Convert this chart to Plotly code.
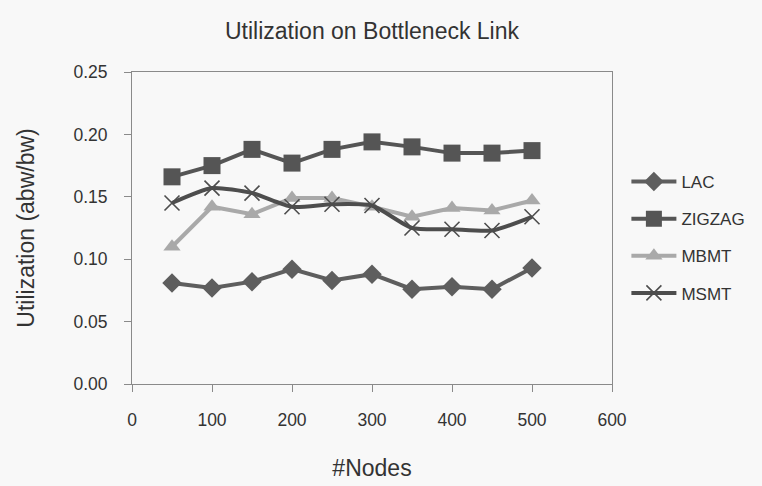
import plotly.graph_objects as go

# Number of nodes in the simulated topology
nodes = [50, 100, 150, 200, 250, 300, 350, 400, 450, 500]

# Utilization (available bandwidth / bandwidth) for each scheme
lac = [0.081, 0.077, 0.082, 0.092, 0.083, 0.088, 0.076, 0.078, 0.076, 0.093]
zigzag = [0.166, 0.175, 0.188, 0.177, 0.188, 0.194, 0.190, 0.185, 0.185, 0.187]
mbmt = [0.110, 0.142, 0.136, 0.149, 0.149, 0.142, 0.134, 0.141, 0.139, 0.147]
msmt = [0.145, 0.157, 0.153, 0.142, 0.144, 0.143, 0.125, 0.124, 0.123, 0.134]

x_ticks = [0, 100, 200, 300, 400, 500, 600]
y_ticks = [0.00, 0.05, 0.10, 0.15, 0.20, 0.25]

FONT = "Liberation Sans, Arial, sans-serif"
BG = "#f8f8f8"

series = [
    ("LAC", lac, "#5e5e5e", dict(symbol="diamond", size=15), "linear"),
    ("ZIGZAG", zigzag, "#555555", dict(symbol="square", size=17), "linear"),
    ("MBMT", mbmt, "#a9a9a9", dict(symbol="triangle-up", size=15), "linear"),
    ("MSMT", msmt, "#4d4d4d", dict(symbol="x-thin", size=15,
                                   line=dict(width=1.6, color="#4d4d4d")), "spline"),
]

fig = go.Figure()
for name, vals, color, marker, shape in series:
    m = dict(color=color, **marker)
    if "line" not in m:
        m["line"] = dict(width=0)
    fig.add_trace(go.Scatter(
        x=nodes, y=vals, name=name, mode="lines+markers",
        line=dict(color=color, width=4, shape=shape, smoothing=0.6),
        marker=m, legendgroup=name,
    ))

axis_common = dict(
    showline=True, mirror=True, linecolor="#8a8a8a", linewidth=1,
    ticks="outside", ticklen=7, tickcolor="#8a8a8a", showgrid=False,
    zeroline=False, tickfont=dict(family=FONT, size=17.5, color="#333333"),
    ticklabelstandoff=13, automargin=False,
)

fig.update_layout(
    width=762, height=486,
    paper_bgcolor=BG, plot_bgcolor=BG,
    margin=dict(l=132, r=147, t=72, b=102),
    title=dict(text="Utilization on Bottleneck Link", x=0.5, xref="paper",
               y=0.936, yanchor="middle",
               font=dict(family=FONT, size=23, color="#333333")),
    xaxis=dict(range=[0, 600], tickvals=x_ticks,
               title=dict(text="#Nodes", standoff=30,
                          font=dict(family=FONT, size=23, color="#333333")),
               **axis_common),
    yaxis=dict(range=[0, 0.25], tickvals=y_ticks, tickformat=".2f",
               title=dict(text="Utilization (abw/bw)", standoff=32,
                          font=dict(family=FONT, size=23, color="#333333")),
               **axis_common),
    legend=dict(x=1.03, y=0.705, xanchor="left", yanchor="top",
                traceorder="grouped", tracegroupgap=12, itemwidth=45,
                bgcolor="rgba(0,0,0,0)",
                font=dict(family=FONT, size=17, color="#333333")),
    showlegend=True,
)

fig.write_html("out.html")
